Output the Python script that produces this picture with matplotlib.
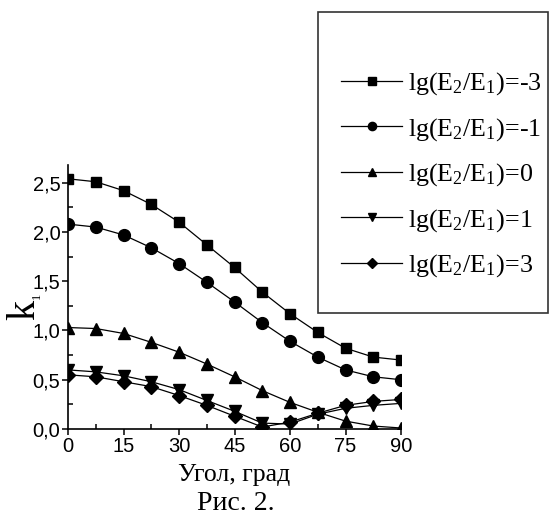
import numpy as np
import matplotlib
matplotlib.use('Agg')
import matplotlib.pyplot as plt
from matplotlib.patches import Rectangle
from matplotlib.ticker import MultipleLocator, FuncFormatter

plt.rcParams['mathtext.fontset'] = 'custom'
plt.rcParams['mathtext.rm'] = 'Liberation Serif'
plt.rcParams['mathtext.it'] = 'Liberation Serif'

# angle, degrees
angle = [0, 7.5, 15, 22.5, 30, 37.5, 45, 52.5, 60, 67.5, 75, 82.5, 90]

# k1 for each lg(E2/E1)
k_m3 = [2.54, 2.51, 2.42, 2.28, 2.10, 1.87, 1.64, 1.39, 1.17, 0.98, 0.82, 0.73, 0.70]
k_m1 = [2.08, 2.05, 1.97, 1.84, 1.68, 1.49, 1.29, 1.08, 0.89, 0.73, 0.60, 0.53, 0.50]
k_0 = [1.03, 1.02, 0.97, 0.88, 0.78, 0.66, 0.53, 0.39, 0.27, 0.17, 0.08, 0.03, 0.01]
k_1 = [0.60, 0.58, 0.54, 0.48, 0.40, 0.29, 0.18, 0.06, 0.05, 0.15, 0.21, 0.24, 0.26]
k_3 = [0.55, 0.53, 0.48, 0.43, 0.34, 0.24, 0.13, 0.02, 0.07, 0.16, 0.24, 0.28, 0.30]

labels = [r'lg(E$_2$/E$_1$)=-3', r'lg(E$_2$/E$_1$)=-1', r'lg(E$_2$/E$_1$)=0',
          r'lg(E$_2$/E$_1$)=1', r'lg(E$_2$/E$_1$)=3']

series = [k_m3, k_m1, k_0, k_1, k_3]
markers = ['s', 'o', '^', 'v', 'D']
msizes = [7.5, 8.5, 8.5, 8.5, 7.5]

fig = plt.figure(figsize=(5.58, 5.15), dpi=100)
ax = fig.add_axes([0.1219, 0.167, 0.5968, 0.5126])

handles = []
for vals, m, ms, lab in zip(series, markers, msizes, labels):
    h, = ax.plot(angle, vals, color='black', lw=0.9, marker=m, ms=ms,
                 mfc='black', mec='black', label=lab)
    handles.append(h)

ax.set_xlim(0, 90)
ax.set_ylim(0, 2.68)
ax.spines['top'].set_visible(False)
ax.spines['right'].set_visible(False)
for s in ['left', 'bottom']:
    ax.spines[s].set_linewidth(1.2)

ax.xaxis.set_major_locator(MultipleLocator(15))
ax.xaxis.set_minor_locator(MultipleLocator(7.5))
ax.yaxis.set_major_locator(MultipleLocator(0.5))
ax.yaxis.set_minor_locator(MultipleLocator(0.25))
ax.yaxis.set_major_formatter(FuncFormatter(lambda v, p: ('%.1f' % v).replace('.', ',')))
ax.tick_params(which='major', direction='out', length=4, width=1.1,
               labelsize=14.5, pad=1.5)
ax.tick_params(which='minor', direction='in', length=3.5, width=1.1)
for t in ax.get_xticklabels() + ax.get_yticklabels():
    t.set_fontfamily('Liberation Sans')

ax.set_xlabel('Угол, град', family='Liberation Serif', fontsize=18.5, labelpad=6)

# y label: big k with a small subscript 1
fig.text(25 / 558, 1 - 309.5 / 515, 'k', family='Liberation Serif', fontsize=29,
         rotation=90, ha='center', va='center')
fig.text(37 / 558, 1 - 296 / 515, '1', family='Liberation Serif', fontsize=9,
         rotation=90, ha='center', va='center')

fig.text(236 / 558, 1 - 503 / 515, 'Рис. 2.', family='Liberation Serif',
         fontsize=20, ha='center', va='center')

# legend box
fig.patches.append(Rectangle((318 / 558, 1 - 313 / 515), 230 / 558, 301 / 515,
                             transform=fig.transFigure, fill=False,
                             edgecolor='#333333', lw=1.2))
leg = fig.legend(handles=handles, loc='upper left',
                 bbox_to_anchor=(331 / 558, 1 - 60 / 515), frameon=False,
                 prop={'family': 'Liberation Serif', 'size': 18.7},
                 markerscale=0.7, handlelength=2.35, handletextpad=0.2,
                 labelspacing=0.72, borderaxespad=0)

fig.savefig('out.png', dpi=100)
